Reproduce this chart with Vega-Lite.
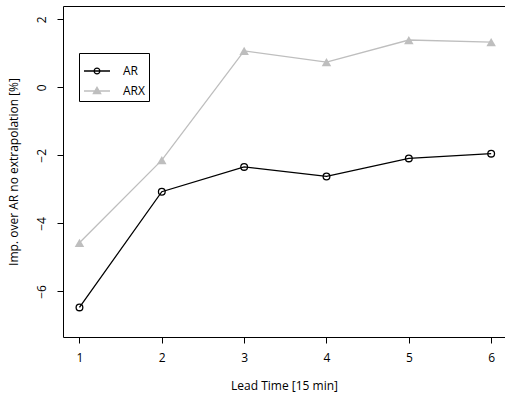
{
  "$schema": "https://vega.github.io/schema/vega-lite/v6.json",
  "autosize": "none",
  "padding": {"left": 63, "top": 6, "right": 0, "bottom": 62},
  "width": 442,
  "height": 331,
  "background": "white",
  "config": {
    "font": "Open Sans",
    "view": {"stroke": "black", "strokeWidth": 1},
    "axis": {
      "domain": false,
      "grid": false,
      "tickColor": "black",
      "tickSize": 6,
      "labelColor": "black",
      "labelFontSize": 12,
      "titleColor": "black",
      "titleFontSize": 12,
      "titleFontWeight": "normal",
      "labelFont": "Open Sans",
      "titleFont": "Open Sans"
    }
  },
  "data": {
    "values": [
      {"lead": 1, "series": "AR", "value": -6.47},
      {"lead": 2, "series": "AR", "value": -3.07},
      {"lead": 3, "series": "AR", "value": -2.34},
      {"lead": 4, "series": "AR", "value": -2.62},
      {"lead": 5, "series": "AR", "value": -2.09},
      {"lead": 6, "series": "AR", "value": -1.95},
      {"lead": 1, "series": "ARX", "value": -4.57},
      {"lead": 2, "series": "ARX", "value": -2.14},
      {"lead": 3, "series": "ARX", "value": 1.07},
      {"lead": 4, "series": "ARX", "value": 0.74},
      {"lead": 5, "series": "ARX", "value": 1.39},
      {"lead": 6, "series": "ARX", "value": 1.33}
    ]
  },
  "encoding": {
    "x": {
      "field": "lead",
      "type": "quantitative",
      "scale": {"domain": [0.8, 6.168], "nice": false, "zero": false},
      "axis": {"values": [1, 2, 3, 4, 5, 6], "title": "Lead Time [15 min]", "labelPadding": 9, "titlePadding": 17, "labelFlush": false}
    },
    "y": {
      "field": "value",
      "type": "quantitative",
      "scale": {"domain": [-7.34, 2.39], "nice": false, "zero": false},
      "axis": {"values": [-6, -4, -2, 0, 2], "title": "Imp. over AR no extrapolation [%]", "labelAngle": -90, "labelAlign": "center", "labelBaseline": "bottom", "labelPadding": 9, "titlePadding": 15, "labelFlush": false}
    }
  },
  "layer": [
    {
      "mark": {"type": "line", "strokeWidth": 1.3},
      "encoding": {
        "color": {
          "field": "series",
          "type": "nominal",
          "scale": {"domain": ["AR", "ARX"], "range": ["black", "#bebebe"]},
          "legend": {
            "title": null,
            "orient": "none",
            "legendX": 16,
            "legendY": 47,
            "strokeColor": "black",
            "padding": 4,
            "labelFontSize": 12,
            "labelFont": "Open Sans",
            "labelColor": "black",
            "labelOffset": 12,
            "labelExpr": "datum.label + '   '",
            "symbolSize": 676,
            "symbolStrokeWidth": 1.3,
            "rowPadding": -8,
            "encode": {
              "symbols": {
                "update": {
                  "shape": {"signal": "datum.value === 'AR' ? 'M-1,0L1,0M-0.22,0A0.22,0.22 0 1,0 0.22,0A0.22,0.22 0 1,0 -0.22,0' : 'M-1,0L1,0M0,-0.28L0.28,0.2L-0.28,0.2Z'"},
                  "fill": {"signal": "datum.value === 'AR' ? 'transparent' : '#bebebe'"},
                  "stroke": {"signal": "datum.value === 'AR' ? 'black' : '#bebebe'"}
                }
              }
            }
          }
        }
      }
    },
    {
      "transform": [{"filter": "datum.series === 'AR'"}],
      "mark": {"type": "point", "shape": "circle", "filled": false, "stroke": "black", "strokeWidth": 1.3, "size": 45, "opacity": 1}
    },
    {
      "transform": [{"filter": "datum.series === 'ARX'"}],
      "mark": {"type": "point", "shape": "triangle-up", "filled": true, "fill": "#bebebe", "size": 90, "opacity": 1}
    }
  ]
}
